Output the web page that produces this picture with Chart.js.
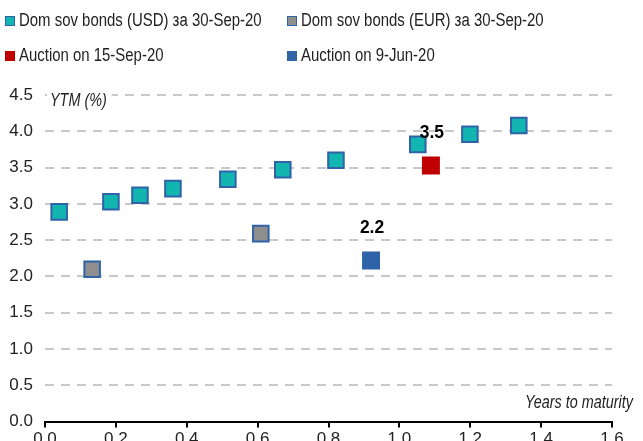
<!DOCTYPE html>
<html>
<head>
<meta charset="utf-8">
<script src="https://cdn.jsdelivr.net/npm/chart.js@4/dist/chart.umd.min.js"></script>
<style>
  body { margin: 0; background: #fff; overflow: hidden; }
  #wrap { position: relative; width: 643px; height: 441px; overflow: hidden; font-family: "Liberation Sans", Arial, sans-serif; color: #222; }
  #legend { position: absolute; left: 5px; top: 9px; display: grid; grid-template-columns: 282px 300px; row-gap: 12px; font-size: 18px; }
  .item { display: flex; align-items: center; white-space: nowrap; height: 23px; }
  .box { flex-shrink: 0; width: 8px; height: 8px; margin-right: 4px; box-sizing: content-box; }
  .txt { display: inline-block; transform: scaleX(0.83); transform-origin: left center; }
  #chartBox { position: absolute; left: 0; top: 0; width: 643px; height: 452px; }
</style>
</head>
<body>
<div id="wrap">
  <div id="chartBox"><canvas id="chart"></canvas></div>
  <div id="legend"></div>
</div>
<script>
// series names
const seriesNames = ['Dom sov bonds (USD) за 30-Sep-20', 'Dom sov bonds (EUR) за 30-Sep-20', 'Auction on 15-Sep-20', 'Auction on 9-Jun-20'];

// years to maturity / yield
const usdYears = [0.04, 0.186, 0.268, 0.361, 0.516, 0.671, 0.821, 1.052, 1.199, 1.337];
const usdYield = [2.89, 3.03, 3.12, 3.21, 3.34, 3.47, 3.60, 3.82, 3.96, 4.08];
const eurYears = [0.133, 0.609];
const eurYield = [2.10, 2.59];
const sepYears = [1.089];
const sepYield = [3.53];
const junYears = [0.92];
const junYield = [2.22];

// labels over the auction points
const sepLabels = ['3.5'];
const junLabels = ['2.2'];

const xTicks = [0, 0.2, 0.4, 0.6, 0.8, 1.0, 1.2, 1.4, 1.6];
const yTicks = [0, 0.5, 1.0, 1.5, 2.0, 2.5, 3.0, 3.5, 4.0, 4.5];

const FONT = '"Liberation Sans", Arial, sans-serif';

const toPts = (xs, ys) => xs.map((x, i) => ({ x: x, y: ys[i] }));

const teal = '#12b5b0', border = '#2f62a8', grey = '#8e8e8e', red = '#c00000', blue = '#2e63a8';

// legend
const legendStyles = [
  { bg: teal, bd: border },
  { bg: grey, bd: border },
  { bg: red, bd: red },
  { bg: blue, bd: blue }
];
const legendEl = document.getElementById('legend');
seriesNames.forEach((name, i) => {
  const d = document.createElement('div');
  d.className = 'item';
  d.innerHTML = '<span class="box" style="background:' + legendStyles[i].bg + ';border:1.5px solid ' + legendStyles[i].bd + '"></span>';
  const s = document.createElement('span');
  s.className = 'txt';
  s.textContent = name;
  d.appendChild(s);
  legendEl.appendChild(d);
});

// narrow text helper
function narrowText(ctx, text, x, y, sx) {
  ctx.save();
  ctx.translate(x, y);
  ctx.scale(sx, 1);
  ctx.fillText(text, 0, 0);
  ctx.restore();
}

// draws the axis titles and the value labels
const extras = {
  id: 'extras',
  afterDatasetsDraw(chart) {
    const { ctx, chartArea, scales } = chart;
    ctx.save();
    ctx.font = 'italic 18px ' + FONT;
    ctx.textBaseline = 'middle';
    ctx.textAlign = 'left';
    const t = 'YTM (%)';
    const w = ctx.measureText(t).width * 0.8;
    const y45 = scales.y.getPixelForValue(4.5);
    ctx.fillStyle = '#fff';
    ctx.fillRect(chartArea.left + 2, y45 - 4, w + 8, 16);
    ctx.fillStyle = '#222';
    narrowText(ctx, t, chartArea.left + 5, y45 + 6, 0.8);
    ctx.textAlign = 'right';
    narrowText(ctx, 'Years to maturity', chartArea.right + 21, scales.y.getPixelForValue(0) - 19, 0.8);

    ctx.font = 'bold 19px ' + FONT;
    ctx.textAlign = 'center';
    ctx.fillStyle = '#000';
    [[2, sepLabels], [3, junLabels]].forEach(([di, labels]) => {
      chart.getDatasetMeta(di).data.forEach((p, i) => {
        narrowText(ctx, labels[i], p.x + 1, p.y - 33, 0.92);
      });
    });
    ctx.restore();
  }
};

new Chart(document.getElementById('chart'), {
  type: 'scatter',
  data: {
    datasets: [
      { label: seriesNames[0], data: toPts(usdYears, usdYield), backgroundColor: teal, borderColor: border, borderWidth: 2, pointStyle: 'rect', pointRadius: 11 },
      { label: seriesNames[1], data: toPts(eurYears, eurYield), backgroundColor: grey, borderColor: border, borderWidth: 2, pointStyle: 'rect', pointRadius: 11 },
      { label: seriesNames[2], data: toPts(sepYears, sepYield), backgroundColor: red, borderColor: red, borderWidth: 0, pointStyle: 'rect', pointRadius: 12.7 },
      { label: seriesNames[3], data: toPts(junYears, junYield), backgroundColor: blue, borderColor: blue, borderWidth: 0, pointStyle: 'rect', pointRadius: 12.7 }
    ]
  },
  options: {
    responsive: true,
    maintainAspectRatio: false,
    animation: false,
    layout: { padding: { top: 95, right: 31, left: 4, bottom: 0 } },
    plugins: { legend: { display: false }, tooltip: { enabled: false } },
    scales: {
      x: {
        type: 'linear',
        min: 0, max: 1.6,
        afterBuildTicks: (axis) => { axis.ticks = xTicks.map(v => ({ value: v })); },
        ticks: { callback: v => v.toFixed(1), color: '#222', font: { family: FONT, size: 17 }, padding: 2, maxRotation: 0 },
        grid: { drawOnChartArea: false, drawTicks: true, tickLength: 6, color: '#000', lineWidth: 2 },
        border: { display: true, color: '#000', width: 2 }
      },
      y: {
        min: 0, max: 4.5,
        afterBuildTicks: (axis) => { axis.ticks = yTicks.map(v => ({ value: v })); },
        afterFit: (axis) => { axis.width = 41; },
        ticks: { callback: v => v.toFixed(1), color: '#222', font: { family: FONT, size: 17 }, padding: 12 },
        grid: { drawTicks: false, color: '#c8c8c8', lineWidth: 2 },
        border: { display: false, dash: [9, 7] }
      }
    }
  },
  plugins: [extras]
});
</script>
</body>
</html>
